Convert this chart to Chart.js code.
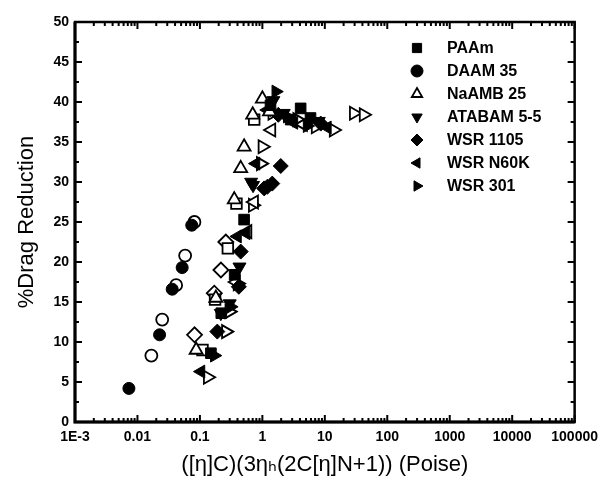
<!DOCTYPE html>
<html>
<head>
<meta charset="utf-8">
<script src="https://cdn.jsdelivr.net/npm/chart.js@4.4.1/dist/chart.umd.min.js"></script>
<style>
  html, body { margin: 0; padding: 0; background: #fff; }
</style>
</head>
<body>
<canvas id="dr" width="605" height="488"></canvas>
<script>
// axis ticks
const xTickValues = [0.001, 0.01, 0.1, 1, 10, 100, 1000, 10000, 100000];
const xTickLabels = ['1E-3', '0.01', '0.1', '1', '10', '100', '1000', '10000', '100000'];
const yTickValues = [0, 5, 10, 15, 20, 25, 30, 35, 40, 45, 50];

// [x, %DR] per polymer, filled and open symbols
const paamFilled = [[0.15, 8.6], [0.22, 13.6], [0.36, 18.4], [0.51, 25.3], [1.35, 39.6], [4.1, 39.2], [5.9, 38.0], [2.84, 37.8]];
const paamOpen = [[0.11, 9.0], [0.175, 15.3], [0.28, 21.7], [0.385, 27.3], [0.74, 37.8]];
const daamFilled = [[0.0073, 4.2], [0.0226, 10.9], [0.036, 16.6], [0.052, 19.3], [0.074, 24.6]];
const daamOpen = [[0.0167, 8.3], [0.0249, 12.8], [0.0416, 17.1], [0.058, 20.8], [0.0817, 25.0]];
const naambOpen = [[0.087, 9.0], [0.18, 15.5], [0.355, 27.8], [0.45, 31.7], [0.51, 34.4], [0.70, 38.4], [1.0, 40.4], [1.3, 38.8]];
const atabamFilled = [[0.216, 13.6], [0.3, 14.8], [0.43, 19.4], [0.66, 30.0], [0.71, 29.6], [1.5, 40.2], [2.2, 38.6], [8.0, 37.6]];
const wsr1105Filled = [[0.19, 11.3], [0.42, 16.9], [0.45, 21.3], [1.07, 29.2], [1.2, 29.4], [1.44, 29.8], [1.97, 32.0], [1.8, 38.4], [8.6, 37.3]];
const wsr1105Open = [[0.082, 10.9], [0.17, 16.1], [0.217, 19.0], [0.26, 22.5]];
const n60kFilled = [[0.104, 6.3], [0.4, 23.2], [0.55, 23.6], [0.79, 32.3], [1.2, 39.0], [3.2, 37.4], [11, 36.8]];
const n60kOpen = [[0.38, 17.5], [0.58, 23.8], [0.74, 27.5], [1.4, 36.5], [4.5, 37.2]];
const wsr301Filled = [[0.17, 8.3], [0.31, 14.4], [1.64, 41.3], [2.5, 38.2], [5.2, 37.0]];
const wsr301Open = [[0.133, 5.6], [0.26, 11.3], [0.295, 13.8], [0.4, 17.3], [0.70, 27.1], [0.94, 32.3], [1.0, 34.4], [1.44, 38.6], [3.6, 37.8], [7.1, 36.9], [13.8, 36.5], [29, 38.6], [41.7, 38.4]];

const FONT = '"Liberation Sans", Arial, "DejaVu Sans", sans-serif';

function series(label, pts, style, rotation, open, radius, inLegend) {
    return {
        label: label,
        data: pts.map(p => ({ x: p[0], y: p[1] })),
        pointStyle: style,
        rotation: rotation,
        pointRotation: rotation,
        pointRadius: radius,
        pointHoverRadius: radius,
        backgroundColor: open ? '#ffffff' : '#000000',
        borderColor: '#000000',
        pointBorderWidth: open ? 1.8 : 1,
        borderWidth: open ? 1.8 : 1,
        showLine: false,
        inLegend: inLegend
    };
}

const datasets = [
    series('PAAm', paamFilled, 'rect', 0, false, 7.5, true),
    series('DAAM 35', daamFilled, 'circle', 0, false, 6, true),
    series('NaAMB 25', naambOpen, 'triangle', 0, true, 7.5, true),
    series('ATABAM 5-5', atabamFilled, 'triangle', 180, false, 7.5, true),
    series('WSR 1105', wsr1105Filled, 'rectRot', 0, false, 7.5, true),
    series('WSR N60K', n60kFilled, 'triangle', 270, false, 7.5, true),
    series('WSR 301', wsr301Filled, 'triangle', 90, false, 7.5, true),
    series('PAAm open', paamOpen, 'rect', 0, true, 7.5, false),
    series('DAAM 35 open', daamOpen, 'circle', 0, true, 6, false),
    series('WSR 1105 open', wsr1105Open, 'rectRot', 0, true, 7.5, false),
    series('WSR N60K open', n60kOpen, 'triangle', 270, true, 7.5, false),
    series('WSR 301 open', wsr301Open, 'triangle', 90, true, 7.5, false)
];

// box with inward major/minor ticks on all four sides
const frameTicks = {
    id: 'frameTicks',
    afterDraw(chart) {
        const { ctx, chartArea: a, scales: { x, y } } = chart;
        ctx.save();
        ctx.strokeStyle = '#000';
        ctx.lineWidth = 2.5;
        ctx.strokeRect(a.left, a.top, a.right - a.left, a.bottom - a.top);
        // heavier bottom and left axis lines
        ctx.lineWidth = 3;
        ctx.beginPath();
        ctx.moveTo(a.left, a.top); ctx.lineTo(a.left, a.bottom); ctx.lineTo(a.right, a.bottom);
        ctx.stroke();
        ctx.lineWidth = 2;
        ctx.beginPath();
        xTickValues.forEach((v, i) => {
            const px = x.getPixelForValue(v);
            ctx.moveTo(px, a.bottom); ctx.lineTo(px, a.bottom - 7);
            ctx.moveTo(px, a.top); ctx.lineTo(px, a.top + 7);
            if (i < xTickValues.length - 1) {
                for (let m = 2; m <= 9; m++) {
                    const mx = x.getPixelForValue(v * m);
                    ctx.moveTo(mx, a.bottom); ctx.lineTo(mx, a.bottom - 4);
                    ctx.moveTo(mx, a.top); ctx.lineTo(mx, a.top + 4);
                }
            }
        });
        yTickValues.forEach((v, i) => {
            const py = y.getPixelForValue(v);
            ctx.moveTo(a.left, py); ctx.lineTo(a.left + 7, py);
            ctx.moveTo(a.right, py); ctx.lineTo(a.right - 7, py);
            if (i < yTickValues.length - 1) {
                const my = y.getPixelForValue(v + 2.5);
                ctx.moveTo(a.left, my); ctx.lineTo(a.left + 4, my);
                ctx.moveTo(a.right, my); ctx.lineTo(a.right - 4, my);
            }
        });
        ctx.stroke();
        ctx.restore();
    }
};

// symbol key inside the plot, upper right
const insideLegend = {
    id: 'insideLegend',
    afterDatasetsDraw(chart) {
        const ctx = chart.ctx;
        const items = chart.data.datasets.filter(d => d.inLegend);
        ctx.save();
        ctx.font = 'bold 16px ' + FONT;
        ctx.textBaseline = 'middle';
        ctx.textAlign = 'left';
        items.forEach((d, i) => {
            const yy = 48 + i * 23;
            ctx.fillStyle = d.backgroundColor;
            ctx.strokeStyle = d.borderColor;
            ctx.lineWidth = d.borderWidth;
            Chart.helpers.drawPoint(ctx, {
                pointStyle: d.pointStyle,
                rotation: d.rotation,
                radius: d.pointStyle === 'rect' ? 6.5 : 6,
                borderWidth: d.borderWidth
            }, 417, yy);
            ctx.fillStyle = '#000';
            ctx.fillText(d.label, 447, yy + 1);
        });
        ctx.restore();
    }
};

new Chart(document.getElementById('dr'), {
    type: 'scatter',
    data: { datasets: datasets },
    options: {
        responsive: false,
        animation: false,
        devicePixelRatio: 1,
        layout: { padding: { left: 0, right: 28, top: 22, bottom: 0 } },
        plugins: { legend: { display: false }, tooltip: { enabled: false } },
        scales: {
            x: {
                type: 'logarithmic',
                min: 0.001,
                max: 100000,
                afterBuildTicks: s => { s.ticks = xTickValues.map(v => ({ value: v })); },
                afterFit: s => { s.height = 66; },
                grid: { display: false, drawTicks: false },
                border: { display: false },
                ticks: {
                    color: '#000',
                    font: { family: FONT, size: 14, weight: 'bold' },
                    padding: 7,
                    maxRotation: 0,
                    autoSkip: false,
                    callback: (v, i) => xTickLabels[i]
                },
                title: {
                    display: true,
                    text: '([\u03b7]C)(3\u03b7\u2095(2C[\u03b7]N+1)) (Poise)',
                    color: '#000',
                    font: { family: FONT, size: 22 },
                    padding: { top: 0, bottom: 10 }
                }
            },
            y: {
                min: 0,
                max: 50,
                afterBuildTicks: s => { s.ticks = yTickValues.map(v => ({ value: v })); },
                afterFit: s => { s.width = 75; },
                grid: { display: false, drawTicks: false },
                border: { display: false },
                ticks: {
                    color: '#000',
                    font: { family: FONT, size: 14, weight: 'bold' },
                    padding: 6
                },
                title: {
                    display: true,
                    text: '%Drag Reduction',
                    color: '#000',
                    font: { family: FONT, size: 22 },
                    padding: { top: 14, bottom: 0 }
                }
            }
        }
    },
    plugins: [frameTicks, insideLegend]
});
</script>
</body>
</html>
